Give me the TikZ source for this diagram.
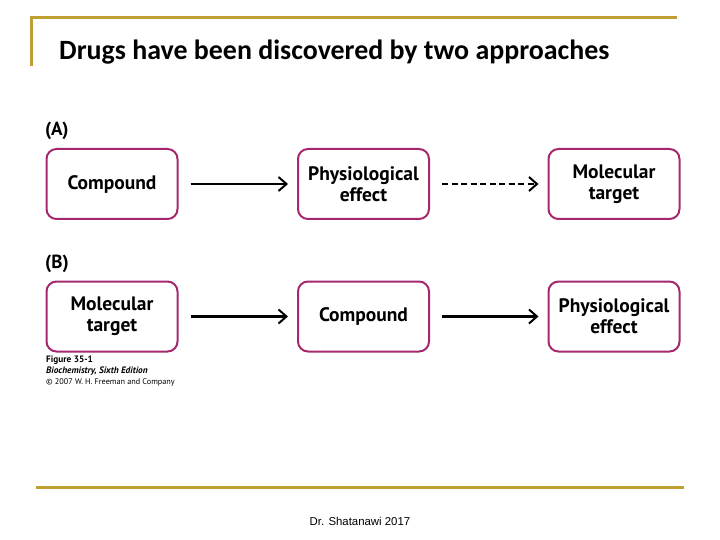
\documentclass[tikz,border=0pt]{standalone}
\usepackage{fontspec}
\setmainfont{Liberation Sans}
\newfontfamily\titlefont{Carlito}
\newfontfamily\boxfont{PT Sans}
\usetikzlibrary{arrows.meta}
\definecolor{gold}{RGB}{190,160,50}
\definecolor{boxcol}{RGB}{165,40,110}
\tikzset{
  x=1pt, y=-1pt,
  stage/.style={draw=boxcol, line width=2pt, rounded corners=10pt, minimum width=131pt, minimum height=70pt, align=center, font=\boxfont\bfseries\fontsize{19.5}{21}\selectfont, inner sep=0pt},
  flow/.style={line width=2.4pt, -{Straight Barb[length=8pt,width=14pt,line width=2pt]}},
  rule/.style={draw=gold, line width=3pt}
}
\begin{document}
\begin{tikzpicture}
\useasboundingbox (0,0) rectangle (720,540);
\coordinate (t1) at (31,66); \coordinate (t2) at (31,18); \coordinate (t3) at (677,18);
\draw[rule] (t1) -- (t2) -- (t3);
\coordinate (b1) at (36,487); \coordinate (b2) at (684,487);
\draw[rule] (b1) -- (b2);
\node[anchor=base west, font=\titlefont\bfseries\fontsize{27.9}{30}\selectfont, inner sep=0pt] (title) at (59,60) {Drugs have been discovered by two approaches};
\node[font=\fontsize{11.4}{13}\selectfont] (foot) at (360,521) {Dr. Shatanawi 2017};
\node[anchor=base west, font=\boxfont\bfseries\fontsize{19}{20}\selectfont, inner sep=0pt] (la) at (45,136) {(A)};
\node[anchor=base west, font=\boxfont\bfseries\fontsize{19}{20}\selectfont, inner sep=0pt] (lb) at (45,268) {(B)};
\node[stage] (a1) at (112,184) {Compound};
\node[stage] (a2) at (363.5,184) {Physiological\\effect};
\node[stage] (a3) at (614,184) {Molecular\\target};
\node[stage] (b1n) at (112,316.5) {Molecular\\target};
\node[stage] (b2n) at (363.5,316.5) {Compound};
\node[stage] (b3n) at (614,316.5) {Physiological\\effect};
\draw[flow] ([xshift=12pt]a1.east) -- ([xshift=-9pt]a2.west);
\draw[flow, dash pattern=on 6pt off 3.5pt] ([xshift=12pt]a2.east) -- ([xshift=-9pt]a3.west);
\draw[flow] ([xshift=12pt]b1n.east) -- ([xshift=-9pt]b2n.west);
\draw[flow] ([xshift=12pt]b2n.east) -- ([xshift=-9pt]b3n.west);
\node[anchor=north west, align=left, inner sep=0pt, font=\boxfont\fontsize{9.3}{11}\selectfont] (cap) at (46,356) {\textbf{Figure 35-1}\\\textbf{\textit{Biochemistry, Sixth Edition}}\\{\fontsize{8.2}{11}\selectfont\textcopyright{} 2007 W. H. Freeman and Company}};
\end{tikzpicture}
\end{document}
